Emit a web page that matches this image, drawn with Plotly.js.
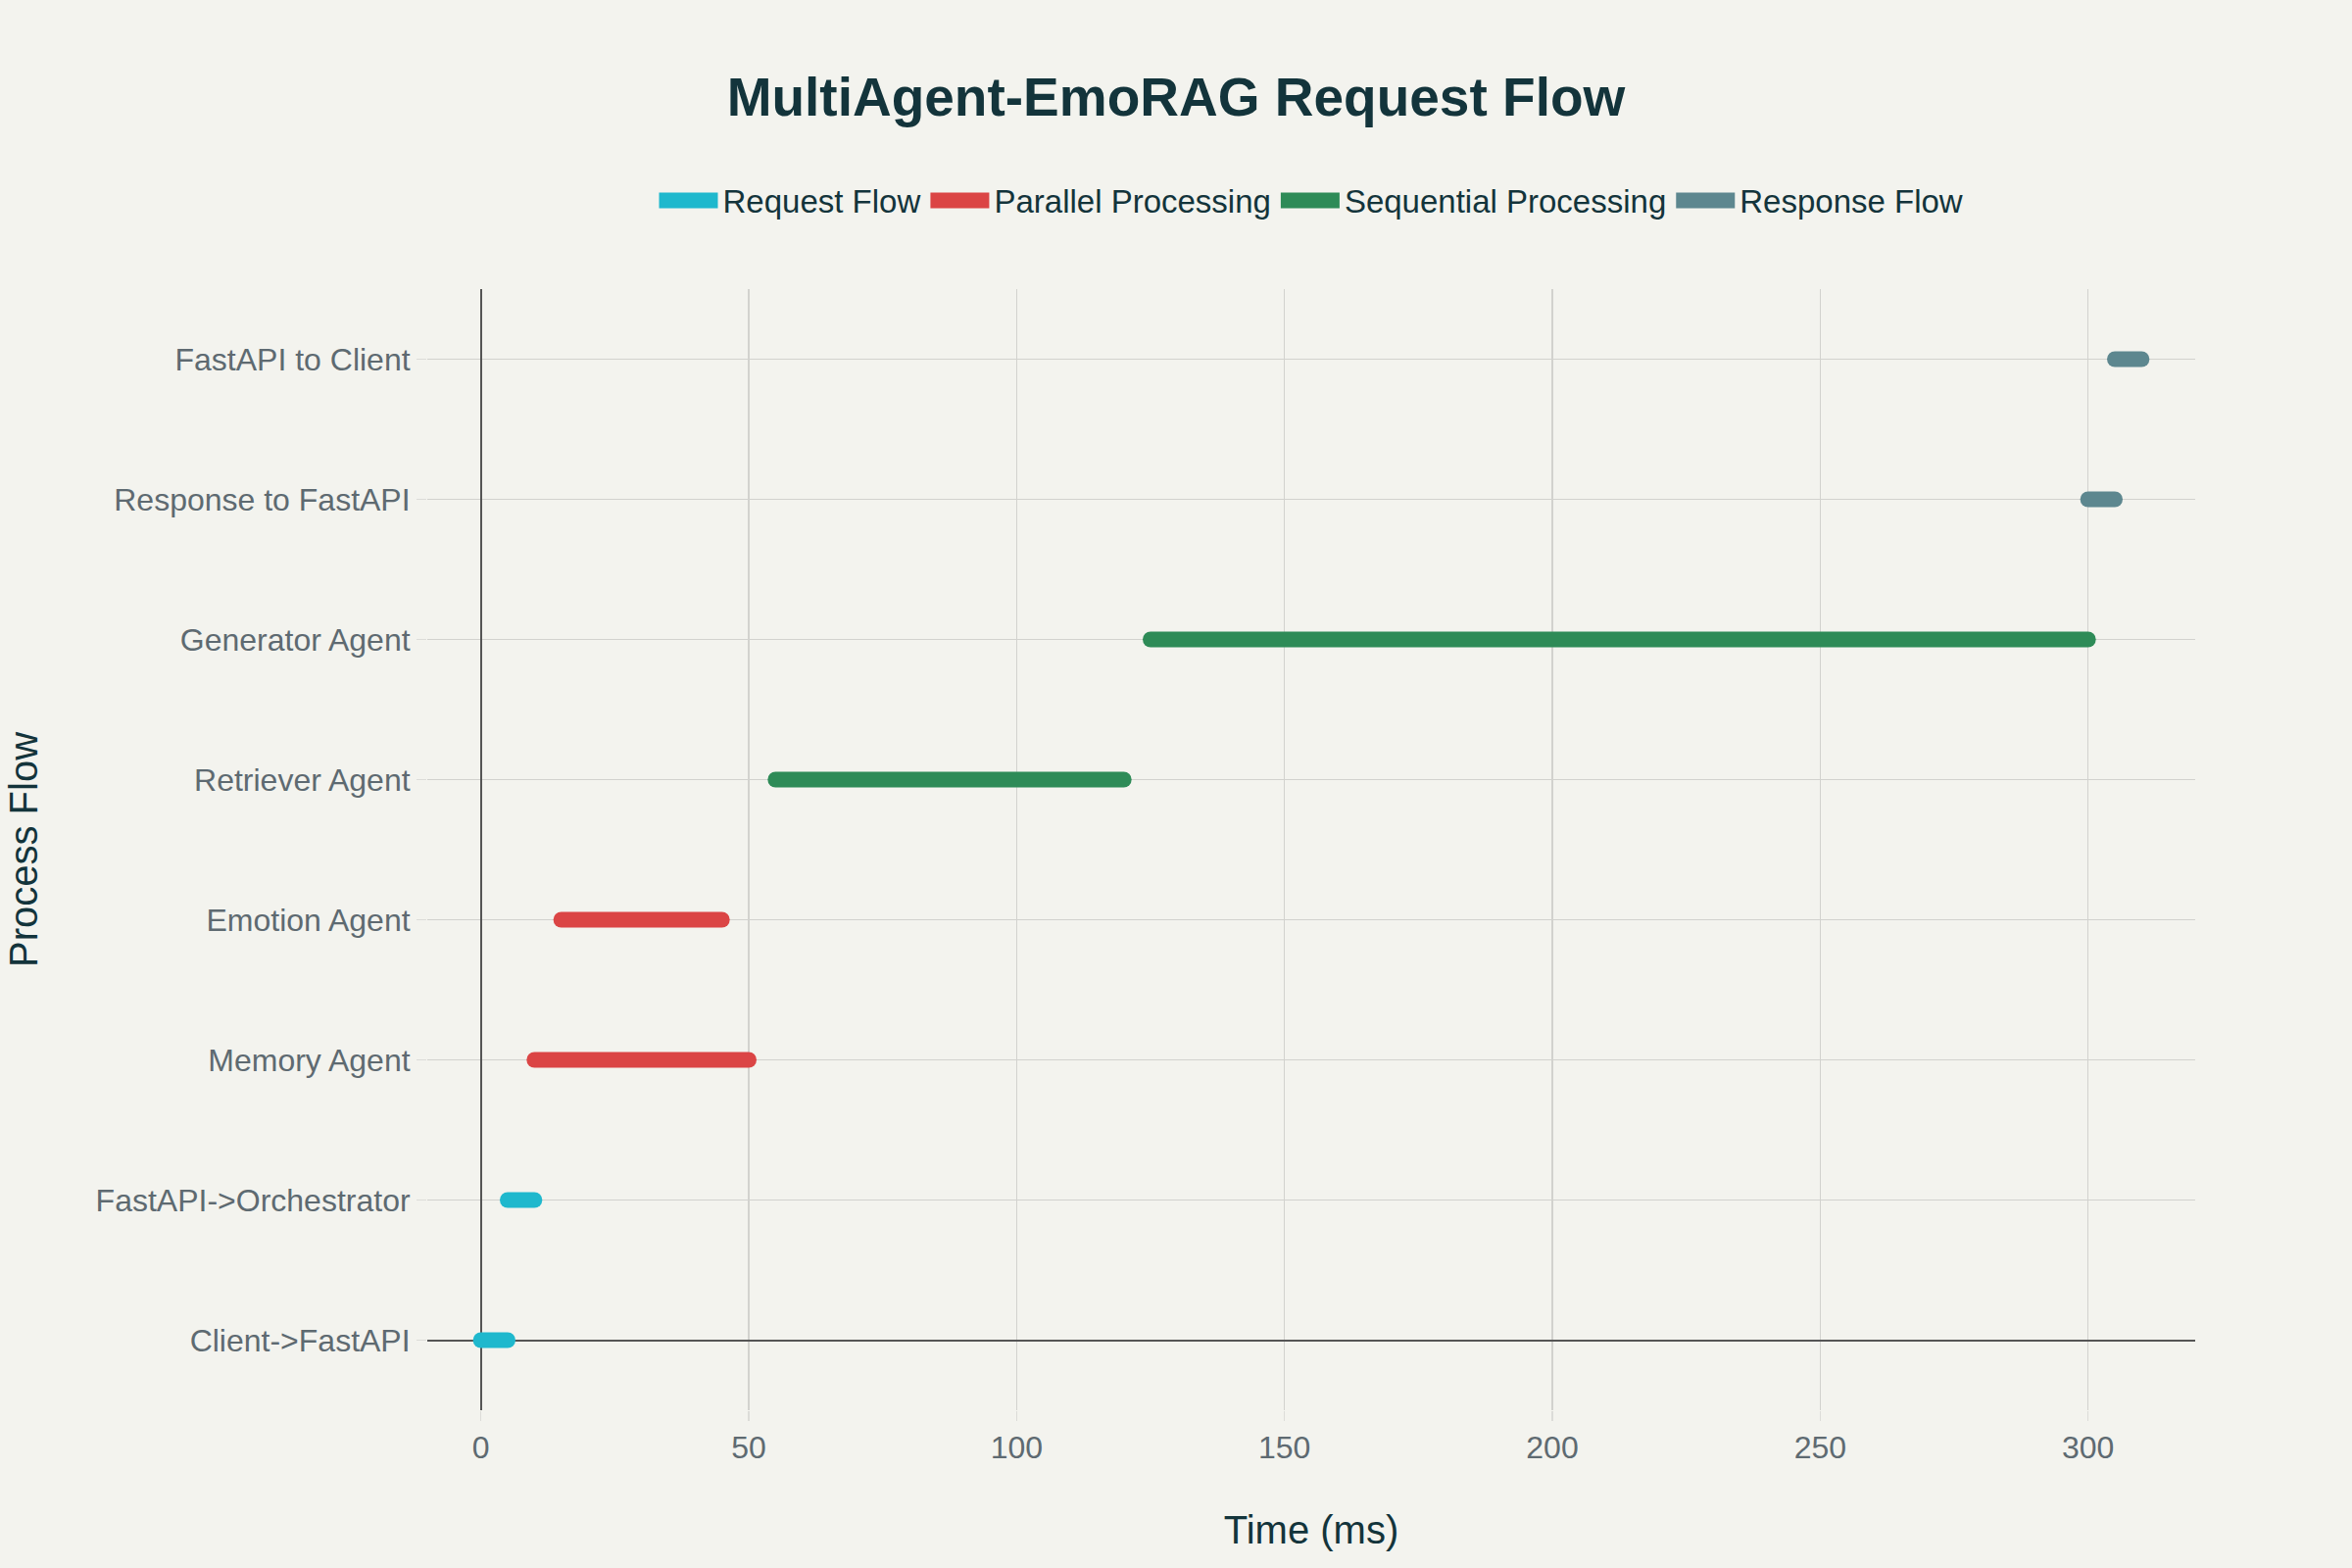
<!DOCTYPE html>
<html>
<head>
<meta charset="utf-8">
<script src="https://cdn.plot.ly/plotly-3.0.1.min.js"></script>
<style>
  html, body { margin: 0; padding: 0; background: #F3F3EE; }
  #chart { width: 2400px; height: 1600px; }
  #chart .scatterlayer .js-line { stroke-linecap: round; }
  #chart .legend .legendlines path { stroke-width: 16px !important; stroke-linecap: butt; }
</style>
</head>
<body>
<div id="chart"></div>
<script>
// Process steps (bottom to top)
const steps = [
  "Client->FastAPI",
  "FastAPI->Orchestrator",
  "Memory Agent",
  "Emotion Agent",
  "Retriever Agent",
  "Generator Agent",
  "Response to FastAPI",
  "FastAPI to Client"
];
const startMs = [0, 5, 10, 15, 55, 125, 300, 305];
const endMs   = [5, 10, 50, 45, 120, 300, 305, 310];
const stepGroup = [
  "Request Flow", "Request Flow",
  "Parallel Processing", "Parallel Processing",
  "Sequential Processing", "Sequential Processing",
  "Response Flow", "Response Flow"
];
const groups = ["Request Flow", "Parallel Processing", "Sequential Processing", "Response Flow"];
const groupColors = ["#1FB8CD", "#DB4545", "#2E8B57", "#5D878F"];
const xTicks = [0, 50, 100, 150, 200, 250, 300];

const FONT = "Liberation Sans, Arial, Helvetica, sans-serif";

const traces = groups.map((g, gi) => {
  const xs = [], ys = [];
  steps.forEach((s, i) => {
    if (stepGroup[i] === g) {
      xs.push(startMs[i], endMs[i], null);
      ys.push(i, i, null);
    }
  });
  return {
    type: "scatter",
    mode: "lines",
    name: g,
    x: xs,
    y: ys,
    line: { color: groupColors[gi], width: 16 },
    connectgaps: false,
    hoverinfo: "skip"
  };
});

const layout = {
  width: 2400,
  height: 1600,
  paper_bgcolor: "#F3F3EE",
  plot_bgcolor: "#F3F3EE",
  margin: { l: 436, r: 160, t: 295, b: 161, autoexpand: false },
  font: { family: FONT, color: "#13343B" },
  title: {
    text: "<b>MultiAgent-EmoRAG Request Flow</b>",
    x: 0.5,
    xref: "container",
    xanchor: "center",
    y: 0.938,
    yref: "container",
    yanchor: "middle",
    font: { family: FONT, size: 55, color: "#13343B" }
  },
  showlegend: true,
  legend: {
    orientation: "h",
    x: 0.5,
    xanchor: "center",
    y: 1.079,
    yanchor: "middle",
    font: { family: FONT, size: 33, color: "#13343B" },
    bgcolor: "rgba(0,0,0,0)",
    itemwidth: 60
  },
  xaxis: {
    range: [-10, 320],
    tickvals: xTicks,
    ticktext: xTicks.map(String),
    showgrid: true,
    gridcolor: "#D2D2CE",
    gridwidth: 1.5,
    zeroline: true,
    zerolinecolor: "#555555",
    zerolinewidth: 2,
    showline: false,
    ticks: "outside",
    ticklen: 10,
    tickcolor: "#DCDCD8",
    tickwidth: 1.5,
    tickfont: { family: FONT, size: 32, color: "#5E6A71" },
    title: {
      text: "Time (ms)",
      font: { family: FONT, size: 40, color: "#13343B" },
      standoff: 52
    },
    automargin: false
  },
  yaxis: {
    range: [-0.5, 7.5],
    tickvals: steps.map((s, i) => i),
    ticktext: steps,
    showgrid: true,
    gridcolor: "#D2D2CE",
    gridwidth: 1.5,
    zeroline: true,
    zerolinecolor: "#555555",
    zerolinewidth: 2,
    showline: false,
    ticks: "outside",
    ticklen: 10,
    tickcolor: "#DCDCD8",
    tickwidth: 1.5,
    tickfont: { family: FONT, size: 32, color: "#5E6A71" },
    title: {
      text: "Process Flow",
      font: { family: FONT, size: 40, color: "#13343B" },
      standoff: 46
    },
    automargin: false
  }
};

Plotly.newPlot("chart", traces, layout, { displayModeBar: false, staticPlot: true });
</script>
</body>
</html>
